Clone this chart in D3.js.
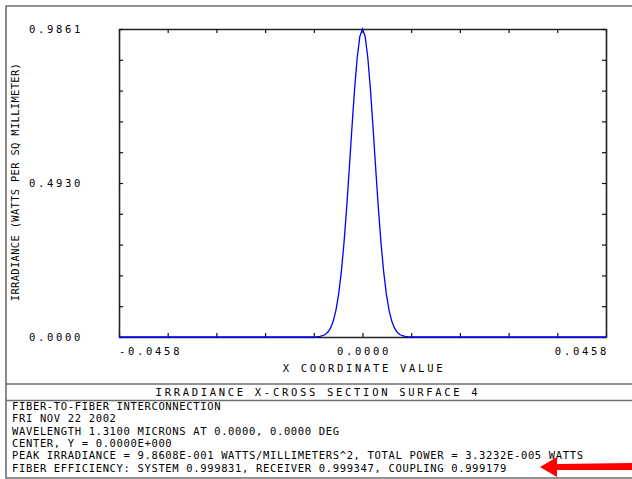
<!DOCTYPE html>
<html>
<head>
<meta charset="utf-8">
<script src="https://cdn.jsdelivr.net/npm/d3@7"></script>
<style>
  body { margin: 0; background: #fff; }
  text { font-family: "DejaVu Sans Mono", monospace; fill: #000; }
</style>
</head>
<body>
<div id="chart"></div>
<script>
// Window size
var w = 632,
    h = 479;

// X positions (mm) and irradiance
var xValues = [-0.0458, -0.0100, -0.0095, -0.0090, -0.0085, -0.0080, -0.0075, -0.0070,
    -0.0065, -0.0060, -0.0055, -0.0050, -0.0045, -0.0040, -0.0035, -0.0030, -0.0025,
    -0.0020, -0.0015, -0.0010, -0.0005, 0.0000, 0.0005, 0.0010, 0.0015, 0.0020, 0.0025,
    0.0030, 0.0035, 0.0040, 0.0045, 0.0050, 0.0055, 0.0060, 0.0065, 0.0070, 0.0075,
    0.0080, 0.0085, 0.0090, 0.0095, 0.0100, 0.0458];
var irradiance = [0, 0, 0.0001, 0.0004, 0.0008, 0.0019, 0.0040, 0.0081,
    0.0158, 0.0291, 0.0510, 0.0853, 0.1358, 0.2059, 0.2972, 0.4087, 0.5349,
    0.6666, 0.7911, 0.8941, 0.9622, 0.9861, 0.9622, 0.8941, 0.7911, 0.6666, 0.5349,
    0.4087, 0.2972, 0.2059, 0.1358, 0.0853, 0.0510, 0.0291, 0.0158, 0.0081, 0.0040,
    0.0019, 0.0008, 0.0004, 0.0001, 0, 0];

// Tick labels
var xLabels = [-0.0458, 0.0000, 0.0458],
    yLabels = [0.0000, 0.4930, 0.9861];

var infoLines = [
    "FIBER-TO-FIBER INTERCONNECTION",
    "FRI NOV 22 2002",
    "WAVELENGTH 1.3100 MICRONS AT 0.0000, 0.0000 DEG",
    "CENTER, Y = 0.0000E+000",
    "PEAK IRRADIANCE = 9.8608E-001 WATTS/MILLIMETERS^2, TOTAL POWER = 3.3232E-005 WATTS",
    "FIBER EFFICIENCY: SYSTEM 0.999831, RECEIVER 0.999347, COUPLING 0.999179"
];

var plot = {left: 119, right: 606, top: 29, bottom: 337};

var svg = d3.select("#chart")
    .append("svg")
    .attr("width", w)
    .attr("height", h);

var x = d3.scaleLinear().domain([-0.0458, 0.0458]).range([plot.left, plot.right]),
    y = d3.scaleLinear().domain([0, 0.9861]).range([plot.bottom, plot.top]);

// 10 divisions on each axis
var xTicks = d3.range(11).map(function (i) { return -0.0458 + i * 0.00916; }),
    yTicks = d3.range(11).map(function (i) { return i * 0.09861; });

// Outer frame and separator lines
var frame = svg.append("g")
    .attr("stroke", "#6e6e6e")
    .attr("stroke-width", 1.6)
    .attr("fill", "none");
frame.append("path").attr("d", "M632,6H6V478H632");
frame.append("line").attr("x1", 6).attr("x2", 632).attr("y1", 384).attr("y2", 384);
frame.append("line").attr("x1", 6).attr("x2", 632).attr("y1", 400.5).attr("y2", 400.5);

// Axes with inward ticks
function styleAxis(g) {
    g.selectAll("text").remove();
    g.select(".domain").attr("stroke", "#222").attr("stroke-width", 1.6);
    g.selectAll(".tick line").attr("stroke", "#111").attr("stroke-width", 1.2);
}
svg.append("g")
    .attr("transform", "translate(0," + plot.bottom + ")")
    .call(d3.axisBottom(x).tickValues(xTicks).tickSize(-4).tickSizeOuter(0))
    .call(styleAxis);
svg.append("g")
    .attr("transform", "translate(0," + plot.top + ")")
    .call(d3.axisTop(x).tickValues(xTicks).tickSize(-4).tickSizeOuter(0))
    .call(styleAxis);
svg.append("g")
    .attr("transform", "translate(" + plot.left + ",0)")
    .call(d3.axisLeft(y).tickValues(yTicks).tickSize(-4).tickSizeOuter(0))
    .call(styleAxis);
svg.append("g")
    .attr("transform", "translate(" + plot.right + ",0)")
    .call(d3.axisRight(y).tickValues(yTicks).tickSize(-4).tickSizeOuter(0))
    .call(styleAxis);

// Irradiance curve
var line = d3.line()
    .x(function (d, i) { return x(xValues[i]); })
    .y(function (d) { return y(d); });
svg.append("path")
    .datum(irradiance)
    .attr("d", line)
    .attr("fill", "none")
    .attr("stroke", "#0000ff")
    .attr("stroke-width", 1.3);

// Tick labels
svg.selectAll("text.ylab")
    .data(yLabels)
    .enter().append("text")
    .attr("class", "ylab")
    .attr("x", 29)
    .attr("y", function (d) { return y(d) + 4; })
    .style("font-size", "10.5px")
    .style("letter-spacing", "2.7px")
    .text(function (d) { return d.toFixed(4); });

svg.selectAll("text.xlab")
    .data(xLabels)
    .enter().append("text")
    .attr("class", "xlab")
    .attr("x", function (d, i) { return x(d) + (i === 2 ? 3 : i === 1 ? 1.5 : 0); })
    .attr("y", 355)
    .attr("text-anchor", function (d, i) { return ["start", "middle", "end"][i]; })
    .style("font-size", "10.5px")
    .style("letter-spacing", "2.7px")
    .text(function (d) { return d.toFixed(4); });

// Axis titles
svg.append("text")
    .attr("x", 364)
    .attr("y", 372)
    .attr("text-anchor", "middle")
    .style("font-size", "10.5px")
    .style("letter-spacing", "2.7px")
    .text("X COORDINATE VALUE");

svg.append("text")
    .attr("transform", "translate(18.5,182) rotate(-90)")
    .attr("text-anchor", "middle")
    .style("font-size", "10.5px")
    .style("letter-spacing", "0.3px")
    .text("IRRADIANCE (WATTS PER SQ MILLIMETER)");

// Title band
svg.append("text")
    .attr("x", 318)
    .attr("y", 396)
    .attr("text-anchor", "middle")
    .style("font-size", "10.5px")
    .style("letter-spacing", "2.7px")
    .text("IRRADIANCE X-CROSS SECTION SURFACE 4");

// Info block
svg.selectAll("text.info")
    .data(infoLines)
    .enter().append("text")
    .attr("class", "info")
    .attr("x", 12)
    .attr("y", function (d, i) { return 410 + i * 12.3; })
    .style("font-size", "10.5px")
    .style("letter-spacing", "0.65px")
    .text(function (d) { return d; });

// Red arrow pointing at the efficiency line
svg.append("path")
    .attr("d", "M540,467 L557,457 L557,464 L632,463 L632,470 L557,470 L557,477 Z")
    .attr("fill", "#ff0000");
</script>
</body>
</html>
